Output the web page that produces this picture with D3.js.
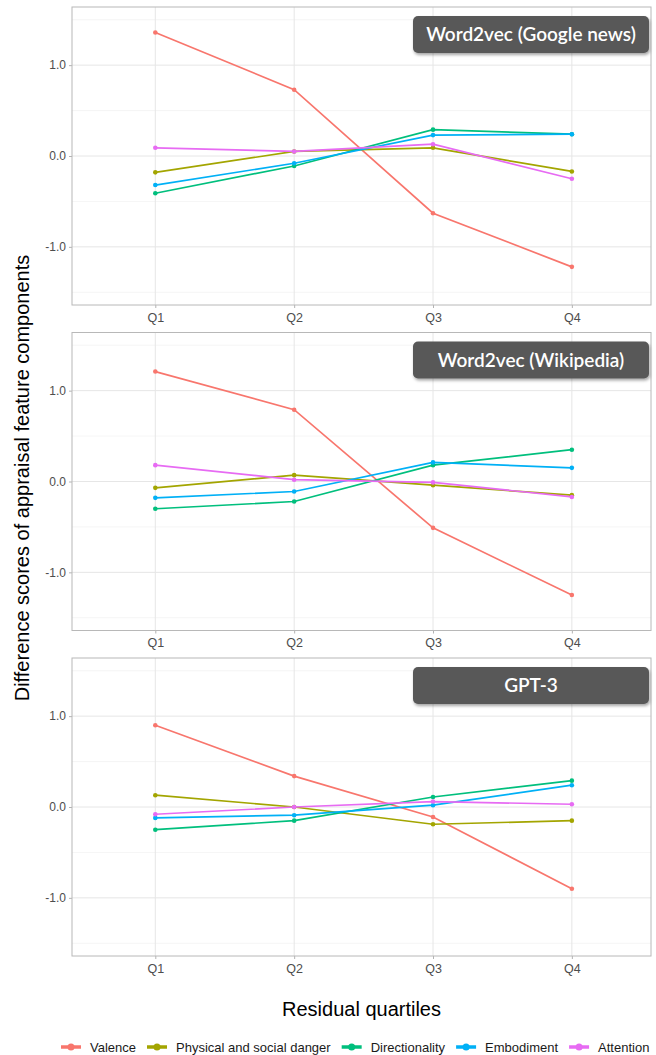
<!doctype html>
<html>
<head>
  <meta charset="utf-8">
  <title>Appraisal feature components by residual quartile</title>
  <script src="https://cdn.jsdelivr.net/npm/d3@7"></script>
  <style>
    body { margin: 0; background: #fff; }
    svg { display: block; font-family: "Liberation Sans", Arial, sans-serif; }
  </style>
</head>
<body>
  <div id="chart"></div>

  <script type="text/javascript">
    var quartiles = ["Q1", "Q2", "Q3", "Q4"];
    var models = ["Word2vec (Google news)", "Word2vec (Wikipedia)", "GPT-3"];
    var features = ["Valence", "Physical and social danger", "Directionality", "Embodiment", "Attention"];
    var colors = ["#F8766D", "#A3A500", "#00BF7D", "#00B0F6", "#E76BF3"];
    var yTicks = [-1, 0, 1];

    // one row per model, one value per quartile
    var valence        = [[1.36, 0.73, -0.63, -1.22], [1.21, 0.79, -0.51, -1.25], [0.90, 0.34, -0.11, -0.90]];
    var danger         = [[-0.18, 0.05, 0.09, -0.17], [-0.07, 0.07, -0.04, -0.15], [0.13, 0.00, -0.19, -0.15]];
    var directionality = [[-0.41, -0.11, 0.29, 0.24], [-0.30, -0.22, 0.18, 0.35], [-0.25, -0.15, 0.11, 0.29]];
    var embodiment     = [[-0.32, -0.08, 0.23, 0.24], [-0.18, -0.11, 0.21, 0.15], [-0.12, -0.09, 0.02, 0.24]];
    var attention      = [[0.09, 0.05, 0.13, -0.25], [0.18, 0.02, -0.01, -0.17], [-0.08, 0.00, 0.06, 0.03]];

    var seriesByFeature = [valence, danger, directionality, embodiment, attention];

    var width = 656;
    var height = 1055;
    var left = 72, right = 651;
    var panelH = 298;
    var firstTop = 7, panelStep = 325.5;

    var svg = d3.select('div#chart')
      .append('svg')
      .attr('width', width)
      .attr('height', height);

    var defs = svg.append('defs');
    var filt = defs.append('filter').attr('id', 'shadow')
      .attr('x', '-10%').attr('y', '-30%').attr('width', '120%').attr('height', '170%');
    filt.append('feDropShadow')
      .attr('dx', 1).attr('dy', 2).attr('stdDeviation', 1.5)
      .attr('flood-color', '#000').attr('flood-opacity', 0.35);

    var x = d3.scaleLinear().domain([0.4, 4.57]).range([left, right]);

    models.forEach(function(model, m) {
      var top = firstTop + m * panelStep;
      var y = d3.scaleLinear().domain([-1.64, 1.64]).range([top + panelH, top]);
      var g = svg.append('g');

      // minor grid
      g.selectAll('line.minor')
        .data([-1.5, -0.5, 0.5, 1.5])
        .enter().append('line')
        .attr('x1', left).attr('x2', right)
        .attr('y1', function(d) { return y(d); })
        .attr('y2', function(d) { return y(d); })
        .attr('stroke', '#f2f2f2').attr('stroke-width', 0.8);

      // major grid
      g.selectAll('line.major')
        .data(yTicks)
        .enter().append('line')
        .attr('x1', left).attr('x2', right)
        .attr('y1', function(d) { return y(d); })
        .attr('y2', function(d) { return y(d); })
        .attr('stroke', '#e6e6e6').attr('stroke-width', 1);

      g.selectAll('line.vgrid')
        .data(quartiles)
        .enter().append('line')
        .attr('x1', function(d, i) { return x(i + 1); })
        .attr('x2', function(d, i) { return x(i + 1); })
        .attr('y1', top).attr('y2', top + panelH)
        .attr('stroke', '#e6e6e6').attr('stroke-width', 1);

      // axes
      var yAxis = g.append('g')
        .attr('transform', 'translate(' + left + ',0)')
        .call(d3.axisLeft(y).tickValues(yTicks).tickSize(3).tickPadding(3)
          .tickFormat(function(d) { return d.toFixed(1); }));
      var xAxis = g.append('g')
        .attr('transform', 'translate(0,' + (top + panelH) + ')')
        .call(d3.axisBottom(x).tickValues([1, 2, 3, 4]).tickSize(3).tickPadding(5)
          .tickFormat(function(d) { return quartiles[d - 1]; }));
      [yAxis, xAxis].forEach(function(a) {
        a.select('.domain').remove();
        a.selectAll('line').attr('stroke', '#b3b3b3');
        a.selectAll('text')
          .attr('fill', '#4d4d4d')
          .attr('font-size', '12px')
          .attr('font-family', '"Liberation Sans", Arial, sans-serif');
      });
      xAxis.selectAll('text').attr('font-size', '12.5px');

      // lines and points
      var line = d3.line()
        .x(function(d, i) { return x(i + 1); })
        .y(function(d) { return y(d); });

      seriesByFeature.forEach(function(series, f) {
        var vals = series[m];
        g.append('path')
          .datum(vals)
          .attr('d', line)
          .attr('fill', 'none')
          .attr('stroke', colors[f])
          .attr('stroke-width', 1.7);
        g.selectAll('circle.f' + f)
          .data(vals)
          .enter().append('circle')
          .attr('cx', function(d, i) { return x(i + 1); })
          .attr('cy', function(d) { return y(d); })
          .attr('r', 2.3)
          .attr('fill', colors[f]);
      });

      // panel border
      g.append('rect')
        .attr('x', left).attr('y', top)
        .attr('width', right - left).attr('height', panelH)
        .attr('fill', 'none')
        .attr('stroke', '#b8b8b8').attr('stroke-width', 1);

      // model label
      var bx = 413, bw = 236, bh = 37, by = top + 9;
      g.append('rect')
        .attr('x', bx).attr('y', by)
        .attr('width', bw).attr('height', bh)
        .attr('rx', 5)
        .attr('fill', '#595959')
        .attr('filter', 'url(#shadow)');
      g.append('text')
        .text(model)
        .attr('x', bx + bw / 2)
        .attr('y', by + bh / 2 + 6.5)
        .attr('text-anchor', 'middle')
        .attr('fill', '#fff')
        .attr('font-family', 'Lato, sans-serif')
        .attr('font-size', '19px')
        .attr('font-weight', 600);
    });

    // axis titles
    svg.append('text')
      .text('Residual quartiles')
      .attr('x', (left + right) / 2)
      .attr('y', 1016)
      .attr('text-anchor', 'middle')
      .attr('font-size', '20px')
      .attr('fill', '#000');

    svg.append('text')
      .text('Difference scores of appraisal feature components')
      .attr('transform', 'translate(29,' + (firstTop + (2 * panelStep + panelH)) / 2 + ') rotate(-90)')
      .attr('text-anchor', 'middle')
      .attr('font-size', '20px')
      .attr('fill', '#000');

    // legend
    var legend = svg.append('g').attr('transform', 'translate(0,1047)');
    var lx = 61;
    features.forEach(function(name, f) {
      var item = legend.append('g').attr('transform', 'translate(' + lx + ',0)');
      item.append('line')
        .attr('x1', 0).attr('x2', 20)
        .attr('stroke', colors[f]).attr('stroke-width', 3.5);
      item.append('circle')
        .attr('cx', 10).attr('r', 3.5)
        .attr('fill', colors[f]);
      var t = item.append('text')
        .text(name)
        .attr('x', 29)
        .attr('y', 4.5)
        .attr('font-size', '13px')
        .attr('fill', '#1a1a1a');
      lx += 29 + t.node().getComputedTextLength() + 11;
    });
  </script>
</body>
</html>
